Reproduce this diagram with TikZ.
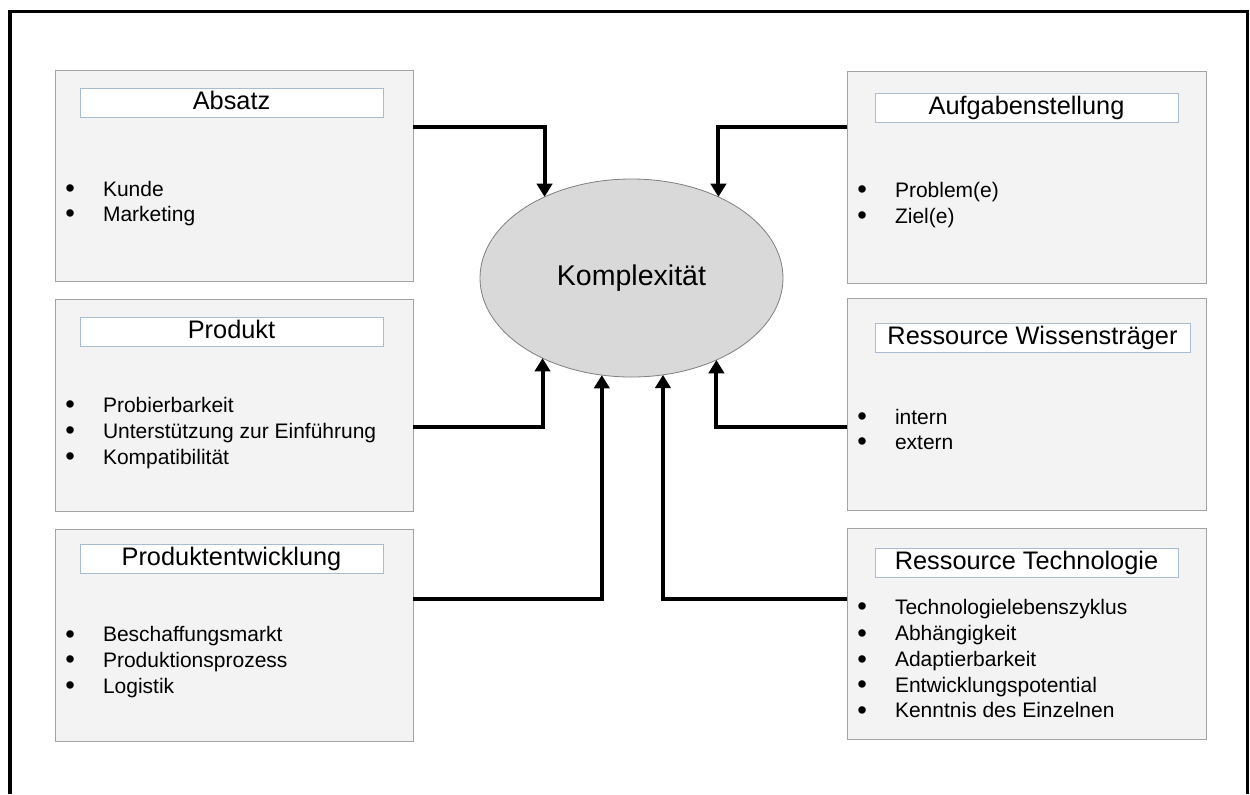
\documentclass[tikz,border=0pt]{standalone}
\usepackage{fontspec}
\setmainfont{Liberation Sans}
\usetikzlibrary{arrows.meta,shapes.geometric}
\definecolor{panelfill}{HTML}{F3F3F3}
\definecolor{panelline}{HTML}{A3A3A3}
\definecolor{titleline}{HTML}{A9BCD0}
\definecolor{ovalfill}{HTML}{D9D9D9}
\definecolor{ovalline}{HTML}{7F7F7F}
\newcommand\blt{\makebox[28.3pt][l]{\raisebox{-0.09em}{\scalebox{1.3}{\textbullet}}}}
\begin{document}
\begin{tikzpicture}[x=0.75pt,y=-0.75pt,
  panel/.style={draw=panelline, fill=panelfill, line width=0.75pt,
    inner sep=0pt, outer sep=0pt, minimum height=158.6pt},
  lpanel/.style={panel, minimum width=268.5pt},
  rpanel/.style={panel, minimum width=269.25pt},
  heading/.style={draw=titleline, fill=white, line width=0.75pt,
    inner sep=0pt, outer sep=0pt, minimum width=227.25pt, minimum height=21.75pt,
    font=\fontsize{19pt}{22pt}\selectfont, text height=13.6pt, text depth=3.8pt},
  item/.style={anchor=base west, inner sep=0pt, outer sep=0pt,
    font=\fontsize{15.75pt}{19pt}\selectfont},
  conn/.style={line width=3pt, -{Triangle[length=10pt,width=11.5pt]}},
  oval/.style={ellipse, draw=ovalline, fill=ovalfill, line width=0.6pt,
    inner sep=0pt, outer sep=0pt, minimum width=227.25pt, minimum height=148.5pt,
    font=\fontsize{21.4pt}{25pt}\selectfont}]

\useasboundingbox (0,0) rectangle (1250,794);
\fill[white] (0,0) rectangle (1250,794);

% frame
\draw[line width=2.4pt] (10,794) -- (10,11.7) -- (1247.7,11.7) -- (1247.7,794);

% left column
\node[lpanel] (absatz) at (234,176) {};
\node[heading] (tabsatz) at (231.5,102.5) {Absatz};
\node[item] (a1) at (65.3,196) {\blt Kunde};
\node[item] (a2) at (65.3,221) {\blt Marketing};

\node[lpanel] (produkt) at (234,405.5) {};
\node[heading] (tprodukt) at (231.5,332) {Produkt};
\node[item] (p1) at (65.3,412) {\blt Probierbarkeit};
\node[item] (p2) at (65.3,438) {\blt Unterstützung zur Einführung};
\node[item] (p3) at (65.3,464) {\blt Kompatibilität};

\node[lpanel] (entw) at (234,635.5) {};
\node[heading] (tentw) at (231.5,558.5) {Produktentwicklung};
\node[item] (e1) at (65.3,641.5) {\blt Beschaffungsmarkt};
\node[item] (e2) at (65.3,667) {\blt Produktionsprozess};
\node[item] (e3) at (65.3,693) {\blt Logistik};

% right column
\node[rpanel] (aufg) at (1026.5,177.5) {};
\node[heading] (taufg) at (1026.5,108) {Aufgabenstellung};
\node[item] (g1) at (857.3,197) {\blt Problem(e)};
\node[item] (g2) at (857.3,223) {\blt Ziel(e)};

\node[rpanel] (wiss) at (1026.5,404.5) {};
\node[heading, minimum width=236.25pt] (twiss) at (1032.5,338) {Ressource Wissensträger};
\node[item] (w1) at (857.3,424) {\blt intern};
\node[item] (w2) at (857.3,449) {\blt extern};

\node[rpanel] (tech) at (1026.5,634) {};
\node[heading] (ttech) at (1026.5,563) {Ressource Technologie};
\node[item] (t1) at (857.3,614) {\blt Technologielebenszyklus};
\node[item] (t2) at (857.3,640.5) {\blt Abhängigkeit};
\node[item] (t3) at (857.3,666.5) {\blt Adaptierbarkeit};
\node[item] (t4) at (857.3,692) {\blt Entwicklungspotential};
\node[item] (t5) at (857.3,717.5) {\blt Kenntnis des Einzelnen};

% centre
\node[oval] (komp) at (631.5,278) {Komplexität};

% connectors
\draw[conn] ([yshift=36.75pt]absatz.east) -| (komp.137.3);
\draw[conn] ([yshift=37.9pt]aufg.west) -| (komp.43.7);
\draw[conn] ([yshift=-16.1pt]produkt.east) -| (komp.222.7);
\draw[conn] ([yshift=-16.9pt]wiss.west) -| (komp.316.3);
\draw[conn] ([yshift=27.4pt]entw.east) -| (komp.253.1);
\draw[conn] ([yshift=26.25pt]tech.west) -| (komp.288);
\end{tikzpicture}
\end{document}
